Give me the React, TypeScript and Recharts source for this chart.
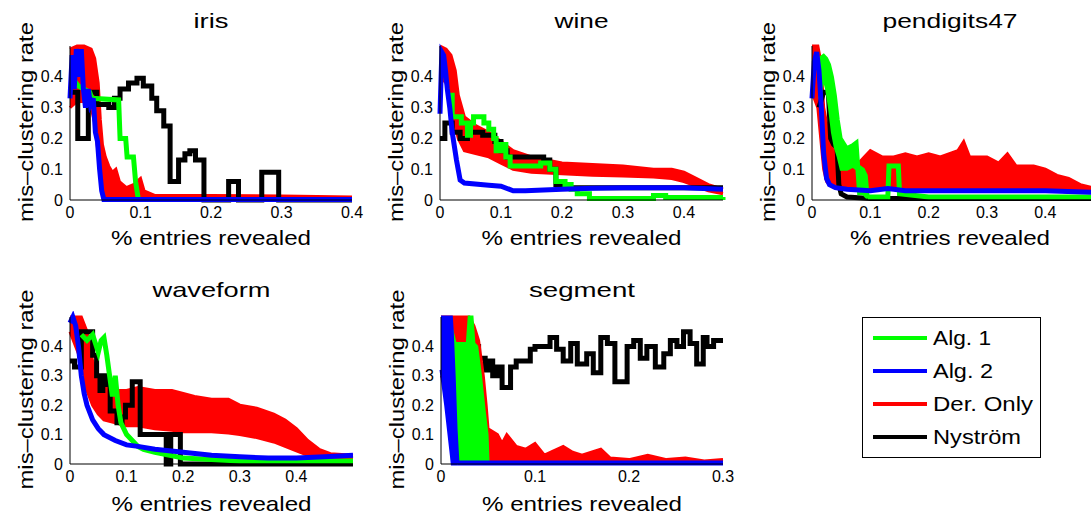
import React from 'react';
import { ComposedChart, Line, Area, XAxis, YAxis } from 'recharts';

type Pt = [number, number];
type Band = [number, number, number]; // x, low, high

const FONT = '"Liberation Sans", Arial, Helvetica, sans-serif';
const GREEN = '#00ff00';
const BLUE = '#0000ff';
const RED = '#ff0000';
const BLACK = '#000000';

const yTicks = [0, 0.1, 0.2, 0.3, 0.4];
const xTicks04 = [0, 0.1, 0.2, 0.3, 0.4];
const xTicks03 = [0, 0.1, 0.2, 0.3];

const legendNames = ['Alg. 1', 'Alg. 2', 'Der. Only', 'Nyström'];
const legendColors = [GREEN, BLUE, RED, BLACK];
const legendWidths = [58, 60, 100, 88];

// ---------- iris ----------
const irisDerOnly: Band[] = [
  [0, 0.3, 0.49], [0.01, 0.32, 0.5], [0.02, 0.32, 0.5], [0.03, 0.3, 0.49], [0.035, 0.25, 0.46],
  [0.04, 0.15, 0.38], [0.043, 0.08, 0.26], [0.046, 0.03, 0.18], [0.05, 0.005, 0.14], [0.055, 0.005, 0.11],
  [0.06, 0.005, 0.09], [0.065, 0.005, 0.1], [0.07, 0.005, 0.06], [0.08, 0.005, 0.04], [0.09, 0.005, 0.05],
  [0.1, 0.005, 0.07], [0.105, 0.005, 0.03], [0.12, 0.005, 0.015], [0.2, 0.004, 0.015], [0.3, 0.003, 0.013],
  [0.4, 0.003, 0.01],
];
const irisNystrom: Pt[] = [
  [0, 0.35], [0.011, 0.2], [0.026, 0.35], [0.038, 0.31], [0.055, 0.3], [0.063, 0.33], [0.071, 0.36],
  [0.083, 0.38], [0.095, 0.395], [0.104, 0.37], [0.116, 0.33], [0.123, 0.29], [0.133, 0.24], [0.142, 0.06],
  [0.154, 0.13], [0.163, 0.15], [0.17, 0.16], [0.178, 0.13], [0.19, 0], [0.225, 0.06], [0.239, 0],
  [0.272, 0.09], [0.296, 0], [0.4, 0],
];
const irisAlg1: Pt[] = [
  [0.005, 0.39], [0.012, 0.37], [0.02, 0.36], [0.028, 0.35], [0.031, 0.33], [0.069, 0.325], [0.071, 0.2],
  [0.079, 0.2], [0.081, 0.14], [0.09, 0.14], [0.093, 0.06], [0.097, 0.002], [0.4, 0.002],
];
const irisAlg2: Pt[] = [
  [0, 0.33], [0.003, 0.47], [0.006, 0.36], [0.009, 0.49], [0.013, 0.4], [0.016, 0.49], [0.019, 0.36],
  [0.022, 0.3], [0.026, 0.36], [0.029, 0.31], [0.033, 0.33], [0.036, 0.22], [0.039, 0.19], [0.042, 0.1],
  [0.045, 0.03], [0.048, 0.002], [0.4, 0.002],
];

// ---------- wine ----------
const wineDerOnly: Band[] = [
  [0, 0.4, 0.5], [0.01, 0.38, 0.49], [0.018, 0.3, 0.47], [0.025, 0.24, 0.42], [0.03, 0.2, 0.34],
  [0.04, 0.16, 0.27], [0.06, 0.15, 0.24], [0.08, 0.14, 0.22], [0.1, 0.12, 0.19], [0.12, 0.1, 0.16],
  [0.15, 0.09, 0.14], [0.2, 0.085, 0.12], [0.25, 0.08, 0.115], [0.3, 0.078, 0.11], [0.35, 0.075, 0.1],
  [0.38, 0.07, 0.1], [0.4, 0.06, 0.09], [0.42, 0.045, 0.07], [0.44, 0.03, 0.05], [0.464, 0.02, 0.035],
];
const wineNystrom: Pt[] = [
  [0, 0.2], [0.008, 0.25], [0.02, 0.22], [0.033, 0.2], [0.045, 0.22], [0.07, 0.21], [0.09, 0.19],
  [0.1, 0.16], [0.11, 0.14], [0.17, 0.13], [0.18, 0.1], [0.19, 0.05], [0.2, 0.04], [0.464, 0.04],
];
const wineAlg1: Pt[] = [
  [0.016, 0.34], [0.02, 0.27], [0.035, 0.25], [0.045, 0.21], [0.05, 0.25], [0.055, 0.27], [0.072, 0.25],
  [0.08, 0.23], [0.088, 0.2], [0.092, 0.16], [0.1, 0.18], [0.108, 0.14], [0.115, 0.11], [0.165, 0.12],
  [0.18, 0.1], [0.19, 0.06], [0.205, 0.05], [0.215, 0.035], [0.225, 0.02], [0.245, 0.005], [0.35, 0.015],
  [0.37, 0.008], [0.464, 0.01],
];
const wineAlg2: Pt[] = [
  [0, 0.28], [0.003, 0.48], [0.006, 0.47], [0.009, 0.42], [0.012, 0.36], [0.016, 0.3], [0.02, 0.22],
  [0.027, 0.13], [0.033, 0.065], [0.04, 0.055], [0.08, 0.048], [0.1, 0.045], [0.12, 0.03], [0.14, 0.03],
  [0.2, 0.035], [0.25, 0.038], [0.3, 0.04], [0.4, 0.04], [0.464, 0.035],
];

// ---------- pendigits47 ----------
const penDerOnly: Band[] = [
  [0, 0.35, 0.5], [0.01, 0.3, 0.5], [0.015, 0.2, 0.45], [0.02, 0.1, 0.3], [0.025, 0.06, 0.25],
  [0.03, 0.05, 0.22], [0.04, 0.04, 0.15], [0.05, 0.04, 0.14], [0.06, 0.04, 0.12], [0.07, 0.04, 0.14],
  [0.08, 0.04, 0.12], [0.09, 0.04, 0.14], [0.1, 0.04, 0.16], [0.12, 0.04, 0.14], [0.14, 0.04, 0.14],
  [0.16, 0.035, 0.15], [0.18, 0.035, 0.14], [0.2, 0.035, 0.15], [0.22, 0.035, 0.14], [0.25, 0.035, 0.16],
  [0.26, 0.035, 0.19], [0.27, 0.035, 0.14], [0.3, 0.035, 0.14], [0.32, 0.035, 0.12], [0.335, 0.035, 0.15],
  [0.35, 0.03, 0.11], [0.38, 0.03, 0.11], [0.4, 0.03, 0.1], [0.42, 0.03, 0.08], [0.44, 0.025, 0.07],
  [0.46, 0.025, 0.05], [0.48, 0.025, 0.04],
];
const penNystrom: Pt[] = [
  [0.012, 0.3], [0.02, 0.35], [0.028, 0.35], [0.032, 0.2], [0.037, 0.18], [0.043, 0.17], [0.046, 0.05],
  [0.05, 0.02], [0.06, 0.01], [0.1, 0.005], [0.48, 0.005],
];
const penAlg1Band: Band[] = [
  [0.013, 0.33, 0.46], [0.02, 0.4, 0.47], [0.025, 0.36, 0.46], [0.03, 0.3, 0.44], [0.035, 0.22, 0.4],
  [0.04, 0.17, 0.34], [0.045, 0.14, 0.26], [0.05, 0.1, 0.2], [0.06, 0.1, 0.17], [0.07, 0.11, 0.18],
  [0.077, 0.1, 0.19], [0.08, 0.02, 0.11], [0.088, 0.02, 0.1], [0.093, 0.01, 0.08], [0.096, 0.008, 0.015],
];
const penAlg1: Pt[] = [
  [0.096, 0.01], [0.13, 0.01], [0.132, 0.11], [0.148, 0.11], [0.15, 0.02], [0.2, 0.01], [0.48, 0.01],
];
const penAlg2: Pt[] = [
  [0, 0.33], [0.004, 0.45], [0.008, 0.48], [0.012, 0.42], [0.016, 0.3], [0.02, 0.15], [0.025, 0.07],
  [0.03, 0.05], [0.04, 0.04], [0.06, 0.035], [0.1, 0.03], [0.13, 0.037], [0.16, 0.03], [0.2, 0.03],
  [0.3, 0.03], [0.4, 0.03], [0.48, 0.025],
];

// ---------- waveform ----------
const waveDerOnly: Band[] = [
  [0, 0.45, 0.5], [0.02, 0.35, 0.5], [0.03, 0.25, 0.45], [0.04, 0.2, 0.35], [0.05, 0.17, 0.3],
  [0.06, 0.15, 0.27], [0.08, 0.14, 0.25], [0.1, 0.13, 0.25], [0.12, 0.13, 0.26], [0.15, 0.12, 0.25],
  [0.18, 0.115, 0.25], [0.2, 0.11, 0.24], [0.22, 0.11, 0.23], [0.25, 0.11, 0.22], [0.28, 0.105, 0.22],
  [0.3, 0.1, 0.2], [0.33, 0.09, 0.19], [0.36, 0.075, 0.17], [0.38, 0.06, 0.15], [0.4, 0.045, 0.12],
  [0.42, 0.03, 0.08], [0.44, 0.025, 0.05], [0.46, 0.022, 0.035], [0.5, 0.02, 0.03],
];
const waveNystrom: Pt[] = [
  [0, 0.35], [0.008, 0.33], [0.02, 0.45], [0.04, 0.37], [0.047, 0.3], [0.053, 0.25], [0.058, 0.3],
  [0.064, 0.27], [0.071, 0.18], [0.083, 0.14], [0.092, 0.16], [0.098, 0.2], [0.11, 0.28], [0.124, 0.1],
  [0.17, 0], [0.178, 0.1], [0.195, 0], [0.5, 0],
];
const waveAlg1: Pt[] = [
  [0.02, 0.44], [0.03, 0.42], [0.04, 0.44], [0.05, 0.38], [0.055, 0.42], [0.06, 0.43], [0.065, 0.37],
  [0.07, 0.3], [0.075, 0.23], [0.08, 0.3], [0.085, 0.2], [0.09, 0.14], [0.1, 0.1], [0.11, 0.08],
  [0.12, 0.06], [0.13, 0.05], [0.15, 0.04], [0.2, 0.02], [0.3, 0.01], [0.4, 0.01], [0.5, 0.01],
];
const waveAlg2: Pt[] = [
  [0, 0.48], [0.005, 0.5], [0.01, 0.47], [0.015, 0.4], [0.02, 0.3], [0.025, 0.24], [0.03, 0.2],
  [0.04, 0.15], [0.05, 0.12], [0.06, 0.1], [0.08, 0.08], [0.1, 0.065], [0.12, 0.06], [0.15, 0.05],
  [0.2, 0.04], [0.25, 0.03], [0.3, 0.025], [0.35, 0.02], [0.4, 0.02], [0.45, 0.025], [0.5, 0.03],
];

// ---------- segment ----------
const segDerOnly: Band[] = [
  [0, 0.3, 0.5], [0.03, 0.2, 0.5], [0.035, 0.15, 0.47], [0.04, 0.1, 0.42], [0.045, 0.05, 0.3],
  [0.048, 0.02, 0.2], [0.05, 0.005, 0.12], [0.06, 0.005, 0.1], [0.065, 0.005, 0.07], [0.07, 0.005, 0.1],
  [0.08, 0.005, 0.06], [0.09, 0.005, 0.05], [0.1, 0.005, 0.07], [0.11, 0.005, 0.03], [0.13, 0.005, 0.06],
  [0.14, 0.005, 0.04], [0.15, 0.005, 0.03], [0.17, 0.005, 0.05], [0.18, 0.005, 0.02], [0.2, 0.005, 0.015],
  [0.22, 0.005, 0.03], [0.24, 0.005, 0.015], [0.26, 0.005, 0.02], [0.28, 0.005, 0.01], [0.3, 0.005, 0.015],
];
const segNystrom: Pt[] = [
  [0, 0.34], [0.01, 0.37], [0.02, 0.4], [0.04, 0.36], [0.047, 0.32], [0.05, 0.35], [0.055, 0.3],
  [0.06, 0.33], [0.065, 0.26], [0.074, 0.33], [0.08, 0.35], [0.095, 0.39], [0.1, 0.4], [0.116, 0.43],
  [0.123, 0.39], [0.13, 0.35], [0.138, 0.41], [0.145, 0.34], [0.155, 0.375], [0.162, 0.31], [0.17, 0.43],
  [0.177, 0.41], [0.185, 0.28], [0.198, 0.4], [0.205, 0.42], [0.212, 0.36], [0.219, 0.4], [0.228, 0.33],
  [0.237, 0.375], [0.244, 0.42], [0.251, 0.4], [0.258, 0.45], [0.265, 0.41], [0.272, 0.34], [0.279, 0.43],
  [0.283, 0.4], [0.29, 0.42], [0.3, 0.42],
];
const segAlg1Band: Band[] = [
  [0.008, 0.2, 0.5], [0.012, 0.05, 0.45], [0.015, 0.01, 0.41], [0.028, 0.01, 0.41], [0.03, 0.01, 0.5],
  [0.033, 0.01, 0.5], [0.035, 0.01, 0.41], [0.038, 0.01, 0.4], [0.042, 0.01, 0.3], [0.046, 0.01, 0.18],
  [0.049, 0.01, 0.1], [0.05, 0.005, 0.01],
];
const segAlg2Band: Band[] = [
  [0, 0.32, 0.5], [0.005, 0.2, 0.5], [0.011, 0.03, 0.5], [0.012, 0, 0.45], [0.014, 0, 0.3],
  [0.016, 0, 0.12], [0.018, 0, 0.005],
];
const segAlg2: Pt[] = [[0.018, 0.003], [0.3, 0.003]];

type Layer =
  | { kind: 'band'; data: Band[]; color: string }
  | { kind: 'line'; data: Pt[]; color: string; step?: boolean; width?: number };

interface PanelDef {
  title: string;
  titleW: number;
  left: number;
  top: number;
  plotW: number;
  plotH: number;
  xMax: number;
  xTicks: number[];
  layers: Layer[];
}

const panels: PanelDef[] = [
  {
    title: 'iris', titleW: 35, left: 70, top: 46, plotW: 282, plotH: 154, xMax: 0.4, xTicks: xTicks04,
    layers: [
      { kind: 'band', data: irisDerOnly, color: RED },
      { kind: 'line', data: irisNystrom, color: BLACK, step: true },
      { kind: 'line', data: irisAlg1, color: GREEN },
      { kind: 'line', data: irisAlg2, color: BLUE },
    ],
  },
  {
    title: 'wine', titleW: 54, left: 440, top: 46, plotW: 283, plotH: 154, xMax: 0.464, xTicks: xTicks04,
    layers: [
      { kind: 'band', data: wineDerOnly, color: RED },
      { kind: 'line', data: wineNystrom, color: BLACK, step: true },
      { kind: 'line', data: wineAlg1, color: GREEN, step: true },
      { kind: 'line', data: wineAlg2, color: BLUE },
    ],
  },
  {
    title: 'pendigits47', titleW: 135, left: 812, top: 46, plotW: 280, plotH: 154, xMax: 0.48, xTicks: xTicks04,
    layers: [
      { kind: 'band', data: penDerOnly, color: RED },
      { kind: 'line', data: penNystrom, color: BLACK },
      { kind: 'band', data: penAlg1Band, color: GREEN },
      { kind: 'line', data: penAlg1, color: GREEN },
      { kind: 'line', data: penAlg2, color: BLUE },
    ],
  },
  {
    title: 'waveform', titleW: 118, left: 70, top: 317, plotW: 283, plotH: 147, xMax: 0.5, xTicks: xTicks04,
    layers: [
      { kind: 'band', data: waveDerOnly, color: RED },
      { kind: 'line', data: waveNystrom, color: BLACK, step: true },
      { kind: 'line', data: waveAlg1, color: GREEN },
      { kind: 'line', data: waveAlg2, color: BLUE },
    ],
  },
  {
    title: 'segment', titleW: 106, left: 441, top: 317, plotW: 282, plotH: 147, xMax: 0.3, xTicks: xTicks03,
    layers: [
      { kind: 'line', data: segNystrom, color: BLACK, step: true },
      { kind: 'band', data: segDerOnly, color: RED },
      { kind: 'band', data: segAlg1Band, color: GREEN },
      { kind: 'band', data: segAlg2Band, color: BLUE },
      { kind: 'line', data: segAlg2, color: BLUE },
    ],
  },
];

const Y_W = 50;
const X_H = 40;
const PAD = 6;
const R_PAD = 18; // room for the last x tick label

const tickStyle = { fill: '#000', fontSize: 16, fontFamily: FONT };

const Panel = ({ p }: { p: PanelDef }) => (
  <div style={{ position: 'absolute', left: p.left - Y_W, top: p.top - PAD }}>
    <ComposedChart
      width={Y_W + p.plotW + R_PAD}
      height={PAD + p.plotH + X_H}
      margin={{ top: PAD, right: R_PAD, bottom: 0, left: 0 }}
    >
      <XAxis
        type="number"
        dataKey="x"
        domain={[0, p.xMax]}
        ticks={p.xTicks}
        height={X_H}
        tickSize={0}
        tickMargin={7}
        tickLine={false}
        axisLine={{ stroke: '#000', strokeWidth: 1 }}
        tick={tickStyle}
        interval={0}
      />
      <YAxis
        type="number"
        domain={[0, 0.5]}
        ticks={yTicks}
        width={Y_W}
        tickSize={0}
        tickMargin={7}
        tickLine={false}
        axisLine={{ stroke: '#000', strokeWidth: 1 }}
        tick={tickStyle}
        interval={0}
      />
      {/* draw in listed order: each layer gets its own z level */}
      {p.layers.map((l, i) =>
        l.kind === 'band' ? (
          <Area
            key={i}
            zIndex={100 + i}
            data={l.data.map(([x, lo, hi]) => ({ x, r: [lo, hi] }))}
            dataKey="r"
            type="linear"
            stroke={l.color}
            strokeWidth={3}
            fill={l.color}
            fillOpacity={1}
            dot={false}
            activeDot={false}
            isAnimationActive={false}
          />
        ) : (
          <Line
            key={i}
            zIndex={100 + i}
            data={l.data.map(([x, y]) => ({ x, y }))}
            dataKey="y"
            type={l.step ? 'stepAfter' : 'linear'}
            stroke={l.color}
            strokeWidth={l.width ?? 5}
            dot={false}
            activeDot={false}
            isAnimationActive={false}
          />
        )
      )}
    </ComposedChart>
  </div>
);

export default function App() {
  return (
    <div
      style={{
        position: 'absolute', left: 0, top: 0, width: 1091, height: 516,
        overflow: 'hidden', background: '#fff', fontFamily: FONT,
      }}
    >
      <svg width={1091} height={516} style={{ position: 'absolute', left: 0, top: 0 }}>
        {panels.map((p) => {
          const cx = p.left + p.plotW / 2;
          const cy = p.top + p.plotH / 2;
          const titleY = p.top < 100 ? 28 : 297;
          const xLabelY = p.top < 100 ? 245 : 511;
          return (
            <g key={p.title} fontFamily={FONT} fill="#000">
              <text x={Math.min(cx, 950)} y={titleY} fontSize={21} textAnchor="middle"
                textLength={p.titleW} lengthAdjust="spacingAndGlyphs">{p.title}</text>
              <text x={Math.min(cx, 950)} y={xLabelY} fontSize={21} textAnchor="middle"
                textLength={200} lengthAdjust="spacingAndGlyphs">% entries revealed</text>
              <text transform={`translate(${p.left - 37},${cy - 1}) rotate(-90)`} fontSize={21}
                textAnchor="middle" textLength={200} lengthAdjust="spacingAndGlyphs">mis–clustering rate</text>
            </g>
          );
        })}
        <rect x={862.5} y={317.5} width={178} height={140} fill="#fff" stroke="#000" strokeWidth={1} />
        {legendNames.map((name, i) => (
          <g key={name}>
            <line x1={873} x2={927} y1={338 + i * 33} y2={338 + i * 33} stroke={legendColors[i]} strokeWidth={4} />
            <text x={933} y={345 + i * 33} fontSize={21} fontFamily={FONT} fill="#000"
              textLength={legendWidths[i]} lengthAdjust="spacingAndGlyphs">{name}</text>
          </g>
        ))}
      </svg>
      {panels.map((p) => (
        <Panel key={p.title} p={p} />
      ))}
    </div>
  );
}
